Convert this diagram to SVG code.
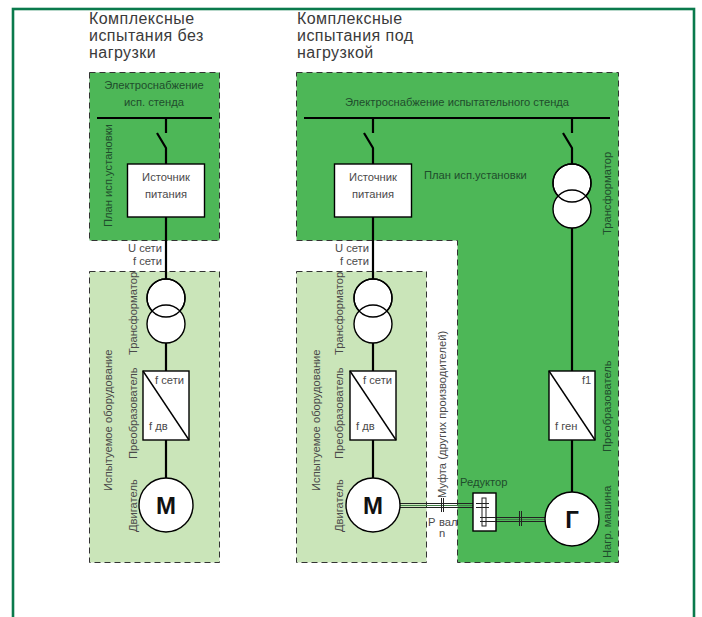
<svg xmlns="http://www.w3.org/2000/svg" width="702" height="617" viewBox="0 0 702 617">
<style>
text{font-family:"Liberation Sans",Arial,sans-serif;font-size:11.2px;fill:#4a4a4a}
.t{font-size:16px;fill:#3a3a3a;letter-spacing:.45px}
.g{fill:#1f4d2c}
.c{text-anchor:middle}
.e{text-anchor:end}
.big{font-size:24px;font-weight:bold;fill:#111;text-anchor:middle}
.dark{fill:#4db757;stroke:#333;stroke-width:1;stroke-dasharray:6 4}
.light{fill:#cae5b9;stroke:#333;stroke-width:1;stroke-dasharray:6 4}
.w{stroke:#000;fill:none;stroke-width:2.2}
.n{fill:#fff;stroke:#000;stroke-width:1.4}
.th{stroke:#222;fill:none;stroke-width:1}
.ov{stroke:#000;fill:none;stroke-width:1.4}
</style>
<rect width="702" height="617" fill="#fff"/>
<rect x="13" y="9" width="681" height="640" fill="none" stroke="#0a7a4c" stroke-width="2.6"/>
<g id="zones">
<rect class="dark" x="89.500" y="72.500" width="130" height="168"/>
<rect class="light" x="89.500" y="271.500" width="130" height="291"/>
<path class="dark" d="M296.500 72.500H618.500V562.500H457.500V240.500H296.500Z"/>
<rect class="light" x="296.500" y="271.500" width="130" height="291"/>
</g>
<g id="connectors">
<path class="w" d="M97 118H212M166 118V133M157 133L166 148V164M166 217V279M166 343V371M166 440V478"/>
<path class="w" d="M304 118H610M373 118V133M364 133L373 148V164M373 217V279M373 343V371M373 440V478"/>
<path class="w" d="M572 118V133M563 133L572 148V164M572 228V371M572 440V492"/>
</g>
<g id="titles">
<text class="t" x="89" y="24">Комплексные</text><text class="t" x="89" y="41">испытания без</text><text class="t" x="89" y="58">нагрузки</text>
<text class="t" x="297" y="24">Комплексные</text><text class="t" x="297" y="41">испытания под</text><text class="t" x="297" y="58">нагрузкой</text>
</g>
<g id="supply-left"><text class="g c" x="154" y="89">Электроснабжение</text><text class="g c" x="154" y="106">исп. стенда</text></g>
<g id="supply-right"><text class="g c" x="457" y="106">Электроснабжение испытательного стенда</text></g>
<g id="plan-left"><text class="g" transform="translate(112,227) rotate(-90)">План исп.установки</text></g>
<g id="plan-right"><text class="g" x="424" y="179">План исп.установки</text></g>
<g id="source-left"><rect class="n" x="127.500" y="164" width="77" height="53"/><text class="c" x="166" y="181">Источник</text><text class="c" x="166" y="198">питания</text></g>
<g id="source-right"><rect class="n" x="334.500" y="164" width="77" height="53"/><text class="c" x="373" y="181">Источник</text><text class="c" x="373" y="198">питания</text></g>
<g id="signals-left"><text class="e" x="162" y="252">U сети</text><text class="e" x="162" y="265">f сети</text></g>
<g id="signals-right"><text class="e" x="369" y="252">U сети</text><text class="e" x="369" y="265">f сети</text></g>
<g id="trafo-left"><circle class="n" cx="166" cy="298" r="19"/><circle class="n" cx="166" cy="324" r="19"/><circle cx="166" cy="298" r="19" class="ov"/><text transform="translate(137,355) rotate(-90)">Трансформатор</text></g>
<g id="trafo-right"><circle class="n" cx="373" cy="298" r="19"/><circle class="n" cx="373" cy="324" r="19"/><circle cx="373" cy="298" r="19" class="ov"/><text transform="translate(343,355) rotate(-90)">Трансформатор</text></g>
<g id="trafo-load"><circle class="n" cx="572" cy="183" r="19"/><circle class="n" cx="572" cy="209" r="19"/><circle cx="572" cy="183" r="19" class="ov"/><text class="g" transform="translate(611,235) rotate(-90)">Трансформатор</text></g>
<g id="conv-left"><rect class="n" x="143" y="371" width="46" height="69"/><path class="ov" d="M143 371L189 440"/><text x="155" y="384">f сети</text><text x="149" y="430">f дв</text><text transform="translate(137,459) rotate(-90)">Преобразователь</text></g>
<g id="conv-right"><rect class="n" x="350" y="371" width="46" height="69"/><path class="ov" d="M350 371L396 440"/><text x="363" y="384">f сети</text><text x="356" y="430">f дв</text><text transform="translate(343,459) rotate(-90)">Преобразователь</text></g>
<g id="conv-load"><rect class="n" x="549" y="371" width="46" height="69"/><path class="ov" d="M549 371L595 440"/><text x="582" y="384">f1</text><text x="555" y="430">f ген</text><text class="g" transform="translate(611,452) rotate(-90)">Преобразователь</text></g>
<g id="eq-left"><text transform="translate(112,491) rotate(-90)">Испытуемое оборудование</text></g>
<g id="eq-right"><text transform="translate(320,491) rotate(-90)">Испытуемое оборудование</text></g>
<g id="shafts">
<path class="th" d="M400 503.500H483M400 507.500H483"/><path stroke="#3f7f45" d="M400 505.500H483"/>
<path class="th" d="M480 517.500H545M480 521.500H545"/><path stroke="#3f7f45" d="M480 519.500H545"/>
<path class="th" d="M441.500 498V512M443.500 498V512M519.500 511V526M521.500 511V526"/>
</g>
<g id="coupling"><text transform="translate(446,498) rotate(-90)">Муфта (других производителей)</text><text x="428" y="526">P</text><text x="439" y="526">вал</text><text x="439" y="537">n</text></g>
<g id="gear"><text class="g" x="460" y="486">Редуктор</text><rect class="n" x="473" y="493" width="23" height="38"/><rect class="th" x="482" y="498" width="4" height="28"/><path class="th" d="M476 503.500H489M476 507.500H489M480 517.500H496M480 521.500H496"/></g>
<g id="motor-left"><circle class="n" cx="166" cy="505" r="27"/><text class="big" x="166" y="513.500">М</text><text transform="translate(137,532) rotate(-90)">Двигатель</text></g>
<g id="motor-right"><circle class="n" cx="373" cy="505" r="27"/><text class="big" x="373" y="513.500">М</text><text transform="translate(343,532) rotate(-90)">Двигатель</text></g>
<g id="gen"><circle class="n" cx="572" cy="519" r="27"/><text class="big" x="572" y="528">Г</text><text class="g" transform="translate(611,558) rotate(-90)">Нагр. машина</text></g>
</svg>
